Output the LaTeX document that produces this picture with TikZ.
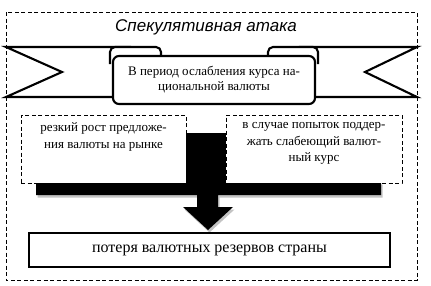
\documentclass[tikz,border=0pt]{standalone}
\usepackage{fontspec}
\setmainfont{Liberation Serif}
\newfontfamily\titlefont{Liberation Sans}
\usepackage{tikz}
\usetikzlibrary{positioning}
\definecolor{shadowgray}{RGB}{195,195,195}
\tikzset{
  outerframe/.style={draw,line width=0.9pt,dash pattern=on 4pt off 2.5pt},
  notebox/.style={draw,line width=0.9pt,dash pattern=on 4pt off 2.5pt,fill=white,
    minimum height=68pt,inner sep=0pt},
  notetext/.style={align=center,inner sep=0pt,font=\fontsize{13}{16.5}\selectfont},
  ribbonline/.style={draw,line width=2.1pt,fill=white,line join=miter},
  panelbox/.style={ribbonline,rounded corners=6pt,minimum width=202pt,minimum height=48pt,
    align=center,inner sep=0pt,font=\fontsize{13}{15}\selectfont},
  lossbox/.style={draw,line width=2pt,fill=white,minimum width=361pt,minimum height=34pt,
    inner sep=0pt,font=\fontsize{16}{19}\selectfont}
}

\begin{document}
\begin{tikzpicture}[x=1pt,y=-1pt]
  \useasboundingbox (0,0) rectangle (431,285);
  \draw[outerframe] (6,12) rectangle (417,280);
  \node[font=\titlefont\itshape\fontsize{17}{20}\selectfont] (title) at (206,27) {Спекулятивная атака};
  % ribbon: tails, curls, middle panel
  \draw[ribbonline] (6,47) -- (130,47) -- (130,97) -- (6,97) -- (62,72) -- cycle;
  \draw[ribbonline] (417,47) -- (300,47) -- (300,97) -- (417,97) -- (365,72) -- cycle;
  \draw[ribbonline,rounded corners=5pt] (110,64) -- (110,47) -- (161,47) -- (161,64);
  \draw[ribbonline,rounded corners=5pt] (268,64) -- (268,47) -- (318,47) -- (318,64);
  \node[panelbox] (panel) at (214,80) {В период ослабления курса на-\\циональной валюты};
  % big black arrow with its shadow
  \foreach \dx/\dy/\col in {1.5/2.5/shadowgray,0/0/black}
    \fill[\col,shift={(\dx,\dy)}] (186,133) -- (226,133) -- (226,182) -- (381,182) -- (381,195)
      -- (218,195) -- (218,207) -- (233,207) -- (208,230) -- (183,207) -- (197,207)
      -- (197,195) -- (36,195) -- (36,182) -- (186,182) -- cycle;
  \node[notebox,minimum width=165pt] (leftbox) at (103.5,149) {};
  \node[notebox,minimum width=176pt] (rightbox) at (314,149) {};
  \node[notetext,below=8pt of leftbox.north] (lefttext) {резкий рост предложе-\\ния валюты на рынке};
  \node[notetext,below=8pt of rightbox.north] (righttext) {в случае попыток поддер-\\жать слабеющий валют-\\ный курс};
  \node[lossbox] (loss) at (209.5,250) {потеря валютных резервов страны};
\end{tikzpicture}
\end{document}
